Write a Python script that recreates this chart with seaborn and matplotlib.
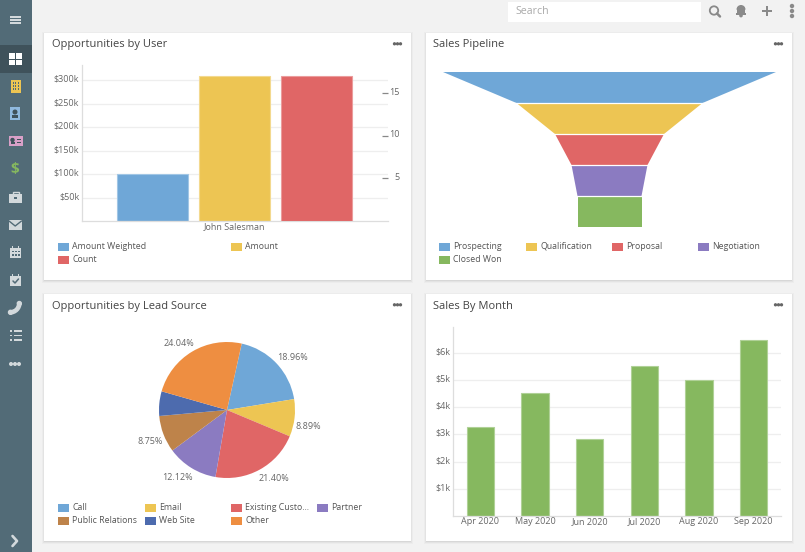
import numpy as np
import pandas as pd
import seaborn as sns
import matplotlib.pyplot as plt
from matplotlib.patches import Rectangle, Circle, Wedge
from matplotlib.transforms import ScaledTranslation

# opportunities by user
user_name = "John Salesman"
user_series = ["Amount Weighted", "Amount", "Count"]
user_amounts = [100, 308]
user_count = [17]
user_ticks = [50, 100, 150, 200, 250, 300]
user_tick_labels = ["$50k", "$100k", "$150k", "$200k", "$250k", "$300k"]
count_ticks = [5, 10, 15]

# sales pipeline
stages = ["Prospecting", "Qualification", "Proposal", "Negotiation", "Closed Won"]
stage_values = [333, 186, 109, 76, 64]

# lead source
sources = ["Call", "Email", "Existing Custo...", "Partner", "Public Relations", "Web Site", "Other"]
source_shares = [18.96, 8.89, 21.40, 12.12, 8.75, 5.84, 24.04]

# sales by month
months = ["Apr 2020", "May 2020", "Jun 2020", "Jul 2020", "Aug 2020", "Sep 2020"]
month_sales = [3.26, 4.51, 2.82, 5.51, 5.01, 6.47]
month_ticks = [1, 2, 3, 4, 5, 6]
month_tick_labels = ["$1k", "$2k", "$3k", "$4k", "$5k", "$6k"]

BLUE = "#6fa7d7"
YELLOW = "#edc553"
RED = "#e06666"
PURPLE = "#8b7bc1"
GREEN = "#86b85f"
BROWN = "#be834a"
NAVY = "#4d6bae"
ORANGE = "#ee8e41"
TEXT = "#666666"
DARK = "#444444"
GRID = "#eeeeee"
SPINE = "#dddddd"
ICON = "#d3d9dc"
TOPBAR = "#8a8a8a"

sns.set_theme(style="white")
plt.rcParams["font.family"] = ["Open Sans", "DejaVu Sans"]

W, H = 805, 552
fig = plt.figure(figsize=(W / 100, H / 100), dpi=100, facecolor="#f2f2f2")

# pixel canvas for the page around the charts
bg = fig.add_axes([0, 0, 1, 1], zorder=0)
bg.set_xlim(0, W)
bg.set_ylim(H, 0)
bg.axis("off")


def px_axes(x0, y0, x1, y1):
    ax = fig.add_axes([x0 / W, 1 - y1 / H, (x1 - x0) / W, (y1 - y0) / H], zorder=2)
    ax.patch.set_alpha(0)
    return ax


def rect(x, y, w, h, color, zorder=2, **kw):
    bg.add_patch(Rectangle((x, y), w, h, facecolor=color, edgecolor="none", zorder=zorder, **kw))


def card(x0, y0, x1, y1, title, title_x):
    for i, alpha in enumerate([0.025, 0.035, 0.05]):
        grow = 3 - i
        rect(x0 - grow + 1, y0 - grow + 2, x1 - x0 + 2 * grow - 2, y1 - y0 + 2 * grow - 2, "black", zorder=1, alpha=alpha)
    rect(x0, y0, x1 - x0, y1 - y0, "white", zorder=1.5)
    bg.text(title_x, y0 + 12, title, fontsize=8.05, color=DARK, va="center", ha="left", zorder=3)
    for dx in [-3, 0, 3]:
        bg.add_patch(Circle((x1 - 13.5 + dx, y0 + 10.8), 0.95, color="#666666", zorder=3))


def legend(names, colors, xs, y0):
    for i, (name, color) in enumerate(zip(names, colors)):
        x = xs[i % len(xs)]
        y = y0 + 13 * (i // len(xs))
        rect(x, y - 4, 10.5, 8, color, zorder=3)
        bg.text(x + 14, y - 0.5, name, fontsize=6.3, color="#555555", va="center", ha="left", zorder=3)


def style_bars(ax):
    for bar in ax.patches:
        face = np.array(bar.get_facecolor()[:3])
        bar.set_edgecolor(tuple(face + (1 - face) * 0.35))
        bar.set_linewidth(0.8)


def lift_labels(labels):
    shift = ScaledTranslation(0, 2 / 100, fig.dpi_scale_trans)
    for label in labels:
        label.set_transform(label.get_transform() + shift)


def style_value_axis(ax):
    ax.set_axisbelow(True)
    ax.grid(True, axis="y", color=GRID, linewidth=0.9)
    ax.grid(False, axis="x")
    for side in ["top", "right"]:
        ax.spines[side].set_visible(False)
    for side in ["left", "bottom"]:
        ax.spines[side].set_color(SPINE)
        ax.spines[side].set_linewidth(0.9)
    ax.tick_params(axis="both", length=0, labelsize=6.45, labelcolor=TEXT)
    ax.tick_params(axis="y", pad=2)
    ax.tick_params(axis="x", pad=1)
    ax.set_xlabel("")
    ax.set_ylabel("")
    lift_labels(ax.get_yticklabels())


# page chrome
rect(0, 0, 32, H, "#526b77")
rect(0, 45, 32, 28, "#3f525b")
rect(508, 2, 193, 20, "white")
bg.text(515, 11.5, "Search", fontsize=7.7, color="#aaaaaa", va="center", ha="left", zorder=3)

card(44, 33, 411, 280, "Opportunities by User", 52)
card(426, 33, 792, 280, "Sales Pipeline", 433.3)
card(44, 294, 411, 541, "Opportunities by Lead Source", 52)
card(426, 294, 792, 541, "Sales By Month", 433.3)

# top bar icons
bg.add_patch(Circle((714, 10.5), 4.2, facecolor="none", edgecolor=TOPBAR, linewidth=1.3, zorder=3))
bg.plot([717, 720], [13.5, 16.5], color=TOPBAR, linewidth=1.8, zorder=3)
bg.add_patch(Wedge((741, 9.5), 3.8, 180, 360, color=TOPBAR, zorder=3))
rect(737.2, 9.5, 7.6, 4, TOPBAR, zorder=3)
rect(736, 13, 10, 1.5, TOPBAR, zorder=3)
bg.add_patch(Circle((741, 15.6), 1.1, color=TOPBAR, zorder=3))
rect(762, 10, 10, 2, TOPBAR, zorder=3)
rect(766, 6, 2, 10, TOPBAR, zorder=3)
for y in [6, 11, 16]:
    bg.add_patch(Circle((792, y), 1.5, color=TOPBAR, zorder=3))

# sidebar icons
for y in [17, 20, 23]:
    rect(10, y - 0.8, 11, 1.6, ICON, zorder=3)
for x, y in [(9, 53), (16, 53), (9, 59.5), (16, 59.5)]:
    rect(x, y, 6.3, 5.7, "white", zorder=3)
rect(10.5, 80, 10, 13, YELLOW, zorder=3)
for x in [12.5, 15, 17.5]:
    for y in [82, 85, 88]:
        rect(x, y, 1.2, 1.6, "#526b77", zorder=3.5)
rect(10, 107, 10, 13, "#8fb9de", zorder=3)
bg.add_patch(Circle((15, 112), 1.8, color="#3f525b", zorder=3.5))
rect(12, 115, 6, 2.5, "#3f525b", zorder=3.5)
rect(9, 136, 13.5, 10, "#d9a0c8", zorder=3)
bg.add_patch(Circle((12.5, 140), 1.5, color="#3f525b", zorder=3.5))
rect(10.5, 142, 4, 2, "#3f525b", zorder=3.5)
rect(16.5, 139, 4, 1, "#3f525b", zorder=3.5)
rect(16.5, 142, 4, 1, "#3f525b", zorder=3.5)
bg.text(15, 169, "$", fontsize=11, fontweight="bold", color=GREEN, va="center", ha="center", zorder=3)
rect(9, 194, 13, 9, ICON, zorder=3)
bg.add_patch(Rectangle((12.5, 191.5), 6, 3, facecolor="none", edgecolor=ICON, linewidth=1, zorder=3))
rect(14, 197, 3, 1.5, "#526b77", zorder=3.5)
rect(9, 220, 12.5, 9.5, ICON, zorder=3)
bg.plot([9, 15.2, 21.5], [221, 226, 221], color="#526b77", linewidth=1, zorder=3.5)
for y0, check in [(248, False), (276, True)]:
    rect(10, y0, 11, 10, ICON, zorder=3)
    rect(12, y0 - 2, 1.2, 3, ICON, zorder=3)
    rect(18, y0 - 2, 1.2, 3, ICON, zorder=3)
    if check:
        bg.plot([13, 15, 18.5], [y0 + 5, y0 + 7, y0 + 3], color="#526b77", linewidth=1.1, zorder=3.5)
    else:
        for x in [12, 15, 18]:
            for y in [y0 + 2.5, y0 + 6]:
                rect(x, y, 1.6, 1.6, "#526b77", zorder=3.5)
bg.add_patch(Wedge((10, 303), 11, 0, 90, width=3.2, color=ICON, zorder=3))
bg.add_patch(Circle((19.3, 303.5), 2, color=ICON, zorder=3))
bg.add_patch(Circle((10.5, 312.3), 2, color=ICON, zorder=3))
for y in [331, 335.5, 340]:
    rect(14, y - 0.8, 7.5, 1.6, ICON, zorder=3)
    rect(9.5, y - 0.8, 2, 1.6, ICON, zorder=3)
for x in [11, 15, 19]:
    bg.add_patch(Circle((x, 364), 1.3, color=ICON, zorder=3))
bg.plot([12.5, 17, 12.5], [536, 541, 546], color=ICON, linewidth=1.9, zorder=3)

# opportunities by user
ax1 = px_axes(82, 65, 388, 221)
amount_df = pd.DataFrame({"series": user_series[:2], "value": user_amounts})
count_df = pd.DataFrame({"series": user_series[2:], "value": user_count})
palette1 = dict(zip(user_series, [BLUE, YELLOW, RED]))
sns.barplot(data=amount_df, x="series", y="value", hue="series", order=user_series, hue_order=user_series,
            palette=palette1, saturation=1, width=0.866, legend=False, ax=ax1)
ax1.set_ylim(0, 332)
ax1.set_yticks(user_ticks, user_tick_labels)
ax1.set_xticks([1], [user_name])
ax1.set_xlim(-0.86, 2.87)
style_bars(ax1)
style_value_axis(ax1)

twin = ax1.twinx()
twin.set_zorder(3)
twin.patch.set_alpha(0)
sns.barplot(data=count_df, x="series", y="value", hue="series", order=user_series, hue_order=user_series,
            palette=palette1, saturation=1, width=0.866, legend=False, ax=twin)
twin.set_ylim(0, 18.35)
twin.set_yticks(count_ticks)
twin.set_xticks([1], [user_name])
twin.set_xlim(-0.86, 2.87)
style_bars(twin)
twin.set_xlabel("")
twin.set_ylabel("")
for spine in twin.spines.values():
    spine.set_visible(False)
twin.tick_params(axis="y", direction="in", length=4.3, width=0.9, color="#888888", labelsize=6.45,
                 labelcolor=TEXT, pad=8.6, left=False, labelleft=False, right=True, labelright=True)
twin.tick_params(axis="x", length=0, labelbottom=False)
for label in twin.get_yticklabels():
    label.set_ha("right")
lift_labels(twin.get_yticklabels())
legend(user_series, [BLUE, YELLOW, RED], [58, 231], 247)

# sales pipeline, each stage narrows to the width of the next one
ax2 = px_axes(443, 72, 776, 227)
edges = stage_values + [stage_values[-1]]
for i, color in enumerate([BLUE, YELLOW, RED, PURPLE, GREEN]):
    half = np.array([edges[i], edges[i + 1]]) / 2
    ax2.fill_betweenx([i, i + 1], -half, half, facecolor=color, edgecolor="none", linewidth=0)
ax2.hlines(range(1, len(stages)), -stage_values[0] / 2, stage_values[0] / 2, color="white", linewidth=0.9)
ax2.set_xlim(-stage_values[0] / 2, stage_values[0] / 2)
ax2.set_ylim(len(stages), 0)
ax2.axis("off")
legend(stages, [BLUE, YELLOW, RED, PURPLE, GREEN], [439, 526, 612, 698], 247)

# lead source
ax3 = px_axes(159, 342, 295, 478)
source_colors = [BLUE, YELLOW, RED, PURPLE, BROWN, NAVY, ORANGE]
pie_labels = [f"{v:.2f}%" if v >= 6 else "" for v in source_shares]
wedges, texts = ax3.pie(source_shares, colors=source_colors, labels=pie_labels, startangle=77.5,
                        counterclock=False, radius=1, labeldistance=1.22,
                        wedgeprops={"linewidth": 0},
                        textprops={"fontsize": 6.45, "color": TEXT})
# labels sit a little off the radial line, nudged in pixels
label_nudge = [(5, 4), (-1, 7), (7, -4), (-6.5, -3), (0.5, 2), (0, 0), (-6, 5)]
for t, (dx, dy) in zip(texts, label_nudge):
    x, y = t.get_position()
    t.set_position((x + dx / 68, y - dy / 68))
    t.set_ha("center")
    t.set_va("center")
ax3.set_xlim(-1, 1)
ax3.set_ylim(-1, 1)
legend(sources, source_colors, [58, 145, 231, 317], 508)

# sales by month
ax4 = px_axes(453, 327, 781, 516)
month_df = pd.DataFrame({"month": months, "sales": month_sales})
sns.barplot(data=month_df, x="month", y="sales", color=GREEN, saturation=1, width=0.5, ax=ax4)
ax4.set_xlim(-0.5, 5.5)
ax4.set_ylim(0, 6.95)
ax4.set_yticks(month_ticks, month_tick_labels)
style_bars(ax4)
style_value_axis(ax4)

fig.savefig("out.png", dpi=100, facecolor=fig.get_facecolor())
